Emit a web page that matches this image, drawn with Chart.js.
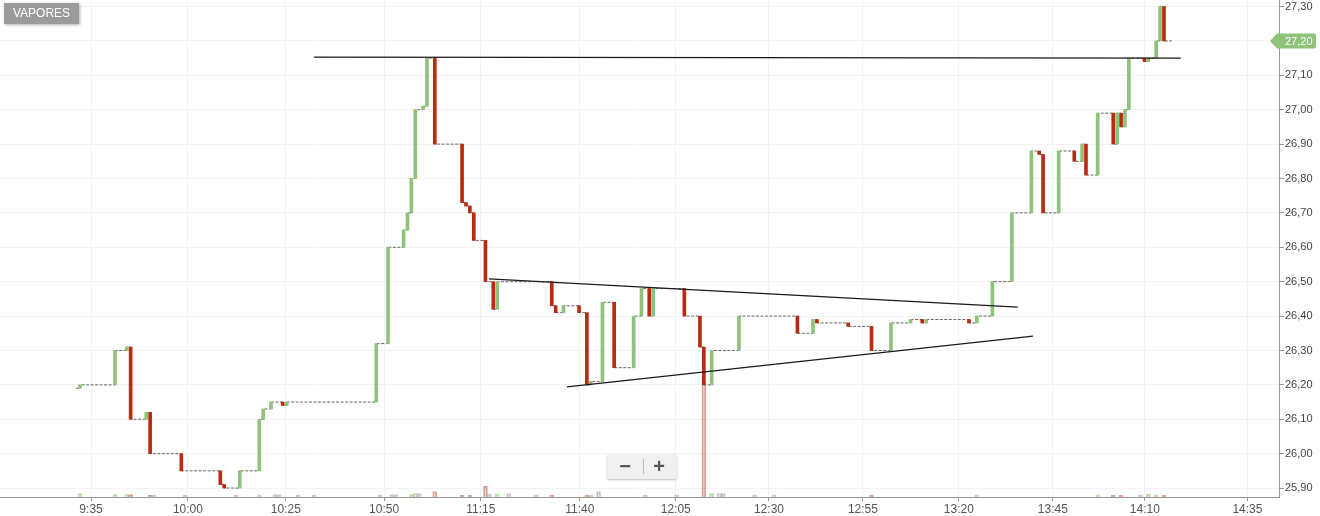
<!DOCTYPE html>
<html>
<head>
<meta charset="utf-8">
<title>VAPORES</title>
<script src="https://cdn.jsdelivr.net/npm/chart.js@4.4.0/dist/chart.umd.min.js"></script>
<style>
  html, body { margin: 0; padding: 0; background: #fff; }
  #wrap { position: relative; width: 1320px; height: 516px; }
  #legendBox {
    position: absolute; left: 4px; top: 3px; width: 75px; height: 21px;
    background: #9b9b9b; color: #fff; font: 12px "Liberation Sans", Arial, sans-serif;
    line-height: 21px; text-align: center; box-shadow: 1px 1px 3px rgba(0,0,0,0.3);
  }
  #zoomBox {
    position: absolute; left: 607px; top: 454px; width: 70px; height: 25px;
    background: #f0f0f0; border-radius: 3px; box-shadow: 0 1px 2px rgba(0,0,0,0.25);
    font: bold 20px "Liberation Sans", Arial, sans-serif; color: #555;
  }
  #zoomBox span { position: absolute; top: 0; line-height: 24px; width: 30px; text-align: center; }
  #zoomBox .minus { left: 3px; }
  #zoomBox .plus { left: 37px; }
  #zoomBox i { position: absolute; left: 36px; top: 5px; width: 1px; height: 15px; background: #bbb; }
</style>
</head>
<body>
<div id="wrap">
  <canvas id="myChart"></canvas>
  <div id="legendBox">VAPORES</div>
  <div id="zoomBox"><span class="minus">&minus;</span><i></i><span class="plus">+</span></div>
</div>
<script>
const myChartObject = document.getElementById('myChart');

// minute slots (ordinal axis) where the price changed, and the new price
const changeSlots = [0, 1, 10, 13, 14, 18, 19, 27, 37, 38,
  42, 47, 48, 50, 53, 54, 77, 80, 84, 85,
  86, 87, 89, 90, 92, 99, 100, 101, 102, 105,
  107, 108, 122, 123, 125, 129, 131, 132, 135, 138,
  143, 145, 147, 148, 156, 160, 161, 163, 170, 185,
  189, 190, 198, 204, 209, 214, 217, 218, 229, 231,
  235, 240, 245, 247, 248, 252, 256, 258, 259, 262,
  266, 267, 268, 269, 270, 274, 275, 277, 278, 279];
const closePrices = [26.19, 26.20, 26.30, 26.31, 26.10, 26.12, 26.00, 25.95, 25.91, 25.90,
  25.95, 26.10, 26.13, 26.15, 26.14, 26.15, 26.32, 26.60, 26.65, 26.70,
  26.80, 27.00, 27.01, 27.15, 26.90, 26.73, 26.72, 26.70, 26.62, 26.50,
  26.42, 26.50, 26.43, 26.41, 26.43, 26.41, 26.20, 26.21, 26.44, 26.25,
  26.40, 26.48, 26.40, 26.48, 26.40, 26.31, 26.20, 26.30, 26.40, 26.35,
  26.39, 26.38, 26.37, 26.30, 26.38, 26.39, 26.38, 26.39, 26.38, 26.40,
  26.50, 26.70, 26.88, 26.87, 26.70, 26.88, 26.85, 26.90, 26.81, 26.99,
  26.90, 26.99, 26.95, 27.00, 27.15, 27.14, 27.15, 27.20, 27.30, 27.20];
const lastSlot = 281;

// volume
const volSlots = [1, 10, 13, 14, 19, 20, 28, 41, 47, 51,
  52, 57, 61, 78, 81, 82, 86, 87, 88, 92,
  99, 101, 105, 106, 108, 111, 118, 122, 131, 132,
  134, 146, 154, 161, 163, 165, 166, 174, 179, 204,
  231, 262, 266, 268, 273, 275, 277, 279];
const volValues = [0.7, 0.5, 0.5, 0.5, 0.4, 0.4, 0.4, 0.4, 0.4, 0.5,
  0.5, 0.4, 0.4, 0.4, 0.5, 0.5, 0.5, 0.7, 0.7, 1.1,
  0.4, 0.4, 2.2, 0.6, 0.6, 0.7, 0.4, 0.4, 0.4, 0.4,
  1.1, 0.4, 0.4, 23, 0.7, 0.7, 0.7, 0.4, 0.4, 0.4,
  0.4, 0.4, 0.4, 0.4, 0.4, 0.6, 0.4, 0.4];

// drawn trend lines [slot, price]
const resistanceLine = [[61, 27.153], [283.3, 27.150]];
const upperLine = [[105.9, 26.508], [241.5, 26.426]];
const lowerLine = [[125.9, 26.194], [245.4, 26.342]];

// x axis ticks (slot positions) and labels
const tickSlots = [3.85, 28.7, 53.8, 79, 103.8, 129.2, 153.8, 177.7, 201.8, 226.4, 250.5, 274.1, 300.4];
const tickLabels = ['9:35', '10:00', '10:25', '10:50', '11:15', '11:40', '12:05', '12:30', '12:55', '13:20', '13:45', '14:10', '14:35'];
const priceTicks = [25.9, 26.0, 26.1, 26.2, 26.3, 26.4, 26.5, 26.6, 26.7, 26.8, 26.9, 27.0, 27.1, 27.2, 27.3];

const upColor = '#8fc27a';
const downColor = '#b92a10';

const barData = [];
const barColors = [];
for (let i = 1; i < changeSlots.length; i++) {
  barData.push({x: changeSlots[i], y: [closePrices[i - 1], closePrices[i]]});
  barColors.push(closePrices[i] > closePrices[i - 1] ? upColor : downColor);
}

const stepData = changeSlots.map((s, i) => ({x: s, y: closePrices[i]}));
stepData.push({x: lastSlot, y: closePrices[closePrices.length - 1]});

const volData = volSlots.map((s, i) => ({x: s, y: volValues[i]}));
function volDirection(s) {
  const i = changeSlots.indexOf(s);
  if (i < 1) return 0;
  return closePrices[i] > closePrices[i - 1] ? 1 : -1;
}
const volFill = volSlots.map(s => volDirection(s) > 0 ? 'rgba(143,194,122,0.25)' : volDirection(s) < 0 ? 'rgba(200,120,105,0.35)' : 'rgba(160,160,160,0.25)');
const volBorder = volSlots.map(s => volDirection(s) > 0 ? 'rgba(143,194,122,0.6)' : volDirection(s) < 0 ? 'rgba(190,110,100,0.6)' : 'rgba(150,150,150,0.5)');

const lastPrice = closePrices[closePrices.length - 1];

const priceFlag = {
  id: 'priceFlag',
  afterDraw(chart) {
    const ctx = chart.ctx;
    const yScale = chart.scales.y;
    const y = Math.round(yScale.getPixelForValue(lastPrice));
    const tip = yScale.left - 9;
    const left = tip + 7;
    const right = 1316;
    const h = 7.5;
    ctx.save();
    ctx.fillStyle = upColor;
    ctx.beginPath();
    ctx.moveTo(tip, y);
    ctx.lineTo(left, y - h);
    ctx.lineTo(right - 2, y - h);
    ctx.quadraticCurveTo(right, y - h, right, y - h + 2);
    ctx.lineTo(right, y + h - 2);
    ctx.quadraticCurveTo(right, y + h, right - 2, y + h);
    ctx.lineTo(left, y + h);
    ctx.closePath();
    ctx.fill();
    ctx.fillStyle = '#fff';
    ctx.font = '11px "Liberation Sans", Arial, sans-serif';
    ctx.textBaseline = 'middle';
    ctx.textAlign = 'left';
    ctx.fillText(lastPrice.toFixed(2).replace('.', ','), 1285, y + 0.5);
    ctx.restore();
  }
};

function trend(points) {
  return {
    type: 'line',
    data: points.map(p => ({x: p[0], y: p[1]})),
    borderColor: '#1a1a1a',
    borderWidth: 1.3,
    pointRadius: 0,
    order: 0,
    yAxisID: 'y'
  };
}

const cfg = {
  type: 'bar',
  data: {
    datasets: [
      trend(resistanceLine),
      trend(upperLine),
      trend(lowerLine),
      {
        type: 'bar',
        data: barData,
        backgroundColor: barColors,
        borderWidth: 0,
        barThickness: 3,
        grouped: false,
        order: 1,
        yAxisID: 'y'
      },
      {
        type: 'line',
        data: stepData,
        stepped: 'before',
        borderColor: '#666',
        borderWidth: 1,
        borderDash: [3, 1.5],
        pointRadius: 0,
        order: 2,
        yAxisID: 'y'
      },
      {
        type: 'bar',
        data: volData,
        backgroundColor: volFill,
        borderColor: volBorder,
        borderWidth: 1,
        barThickness: 4,
        grouped: false,
        order: 3,
        yAxisID: 'yv'
      }
    ]
  },
  options: {
    responsive: true,
    maintainAspectRatio: false,
    animation: false,
    devicePixelRatio: 1,
    layout: {padding: 0},
    plugins: {legend: {display: false}, tooltip: {enabled: false}},
    scales: {
      x: {
        type: 'linear',
        offset: false,
        min: -19.5,
        max: 308.5,
        afterBuildTicks: s => { s.ticks = tickSlots.map(v => ({value: v})); },
        afterFit: s => { s.height = 19; s.paddingLeft = 0; s.paddingRight = 0; },
        ticks: {
          autoSkip: false,
          maxRotation: 0,
          padding: 1,
          color: '#555',
          font: {family: '"Liberation Sans", Arial, sans-serif', size: 12},
          callback: (v, i) => tickLabels[i]
        },
        grid: {offset: false, color: '#f2f2f2', tickColor: '#999', tickLength: 4},
        border: {color: '#999'}
      },
      y: {
        position: 'right',
        min: 25.874,
        max: 27.319,
        afterBuildTicks: s => { s.ticks = priceTicks.map(v => ({value: v})); },
        afterFit: s => { s.width = 41; s.paddingTop = 0; s.paddingBottom = 0; },
        ticks: {
          padding: 1,
          color: '#444',
          font: {family: '"Liberation Sans", Arial, sans-serif', size: 11},
          callback: v => v.toFixed(2).replace('.', ',')
        },
        grid: {color: '#f3f3f3', tickColor: '#999', tickLength: 5},
        border: {color: '#999'}
      },
      yv: {
        display: false,
        min: 0,
        max: 100
      }
    }
  },
  plugins: [priceFlag]
};

let chart = new Chart(myChartObject, cfg);
</script>
</body>
</html>
